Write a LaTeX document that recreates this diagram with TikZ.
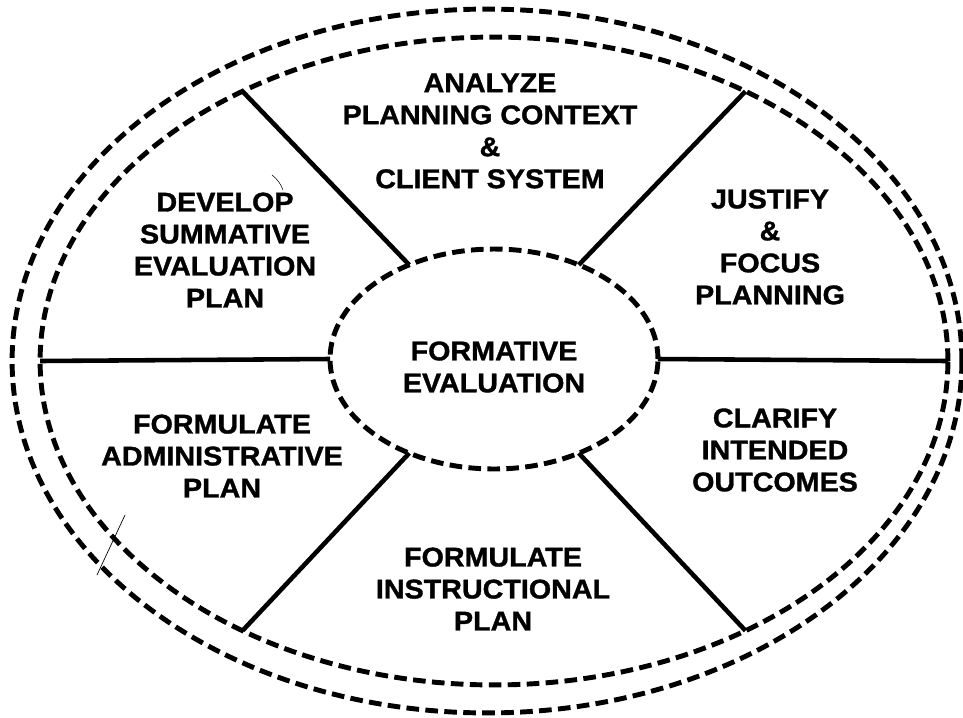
\documentclass[tikz,border=0pt]{standalone}
\usepackage{fontspec}
\setmainfont{Liberation Sans}[FakeStretch=1.06, BoldFeatures={FakeBold=1.2}]
\usetikzlibrary{shapes.geometric}

\tikzset{
  dashline/.style={line width=2.8pt, dash pattern=on 7.2pt off 3.6pt},
  ringshape/.style={ellipse, draw, dashline, inner sep=0pt, outer sep=0pt},
  boxtext/.style={align=center, font=\bfseries\fontsize{15.4}{18.2}\selectfont},
}

\begin{document}
\begin{tikzpicture}[x=0.02cm, y=-0.02cm]
    \useasboundingbox (0,0) rectangle (963,717);
    % 外层与内层椭圆
    \draw[dashline] (487,361) ellipse [x radius=9.5cm, y radius=7.04cm];
    \node[ringshape, minimum width=18.16cm, minimum height=12.96cm] (ring) at (494,361) {};
    \node[ringshape, minimum width=6.56cm, minimum height=4.4cm] (core) at (494,359) {};
    % 分隔线
    \foreach \a/\b in {132/133, 48/47, 180/180, 0/0, 228/227, 312/313.5} {   % 中心椭圆到内层椭圆
      \draw[line width=2.6pt] (core.\a) -- (ring.\b);
    }
    % 文字
    \node[boxtext] (formative) at (494,367) {FORMATIVE\\EVALUATION};
    \node[boxtext] (analyze)   at (490,131) {ANALYZE\\PLANNING CONTEXT\\\&\\CLIENT SYSTEM};
    \node[boxtext] (justify)   at (770,247) {JUSTIFY\\\&\\FOCUS\\PLANNING};
    \node[boxtext] (clarify)   at (775,450) {CLARIFY\\INTENDED\\OUTCOMES};
    \node[boxtext] (instruct)  at (493,589) {FORMULATE\\INSTRUCTIONAL\\PLAN};
    \node[boxtext] (admin)     at (222,456) {FORMULATE\\ADMINISTRATIVE\\PLAN};
    \node[boxtext] (develop)   at (225,250) {DEVELOP\\SUMMATIVE\\EVALUATION\\PLAN};
    % 扫描痕迹
    \draw[line width=0.4pt] (97,575) -- (125,515);
    \draw[line width=0.3pt] (272,175) to[bend left=15] (283,190);
\end{tikzpicture}
\end{document}
